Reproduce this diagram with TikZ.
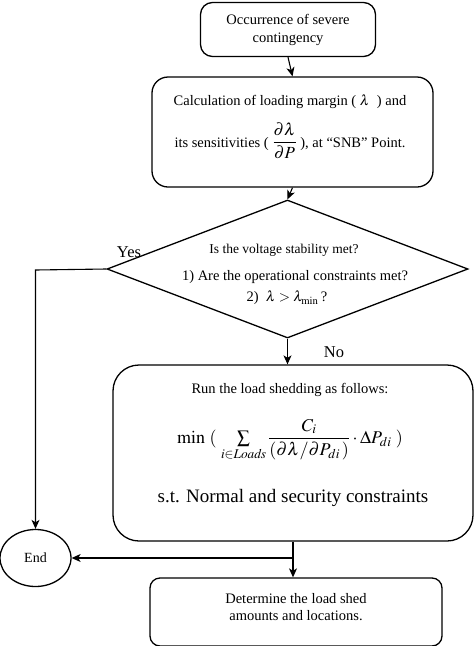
\documentclass[tikz,border=0pt]{standalone}
\usepackage{mathptmx}
\usepackage{fontspec}
\setmainfont{Liberation Serif}
\usetikzlibrary{shapes.geometric,arrows.meta}
\tikzset{
  box/.style={draw, line width=1.3pt, rounded corners=#1, inner sep=0pt, align=center},
  box/.default=10pt,
  conn/.style={line width=1.1pt, -{Stealth[length=9pt,width=8pt,inset=2.5pt]}},
  txt/.style={inner sep=0pt, align=center},
  body/.style={font=\fontsize{14.5}{18}\selectfont},
}
\begin{document}
\begin{tikzpicture}[x=1pt,y=1pt]
\useasboundingbox (0,0) rectangle (474,-646);
% boxes
\node[box=12pt, minimum width=175pt, minimum height=54pt, body] (b1) at (288,-29.5) {Occurrence of severe\\contingency};
\node[box=16pt, minimum width=281pt, minimum height=110pt] (b2) at (292.5,-132) {};
\node[txt, body] (b2a) at (290,-102) {Calculation of loading margin ( $\lambda$\ \ ) and};
\node[txt, body] (b2b) at (290,-141) {its sensitivities ( {\fontsize{17}{20}\selectfont$\displaystyle\frac{\partial\lambda}{\partial P}$} ), at ``SNB'' Point.};
\node[diamond, draw, line width=1.3pt, minimum width=361pt, minimum height=138pt, inner sep=0pt, aspect=2.6] (d) at (287.5,-269) {};
\node[txt, font=\fontsize{13.5}{16}\selectfont] (dt1) at (284,-250) {Is the voltage stability met?};
\node[txt, body] (dt2) at (295,-277) {1) Are the operational constraints met?};
\node[txt, body] (dt3) at (287,-298) {2) \ $\lambda>\lambda_{\mathrm{min}}$\,?};
\node[box=26pt, minimum width=360pt, minimum height=176pt] (b3) at (293,-453) {};
\node[txt, body] (b3a) at (290,-390) {Run the load shedding as follows:};
\node[txt, font=\fontsize{18}{21}\selectfont] (b3b) at (290,-440) {$\displaystyle \mathrm{min}\ (\ \textstyle\sum\limits_{i\in \mathit{Loads}}\displaystyle\frac{C_i}{(\partial\lambda/\partial P_{di}\,)}\cdot\Delta P_{di}\ )$};
\node[txt, font=\fontsize{19}{22}\selectfont] (b3c) at (293,-498) {s.t. Normal and security constraints};
\node[ellipse, draw, line width=1.3pt, minimum width=71pt, minimum height=57pt, inner sep=0pt, font=\fontsize{14}{16}\selectfont] (end) at (35.5,-558) {End};
\node[box=10pt, minimum width=292pt, minimum height=68pt] (b4) at (296,-612) {};
\node[txt, font=\fontsize{14.5}{17.5}\selectfont] (b4t) at (296,-607) {Determine the load shed\\amounts and locations.};
% labels
\node[txt, font=\fontsize{16.5}{18}\selectfont] (yes) at (129,-252) {Yes};
\node[txt, font=\fontsize{16.5}{18}\selectfont] (no) at (334,-352) {No};
% connectors
\draw[conn] (b1.south) -- (b2.north);
\draw[conn] (b2.south) -- (d.north);
\draw[conn] (d.south) -- (b3.north -| d.south);
\coordinate (yc) at (35.5,-270);
\draw[conn] (d.west) -- (yc) -- (end.north);
\coordinate (j) at (293,-558);
\draw[conn] (b3.south) -- (b4.north -| b3.south);
\draw[conn] (j) -- (end.east);
\end{tikzpicture}
\end{document}
